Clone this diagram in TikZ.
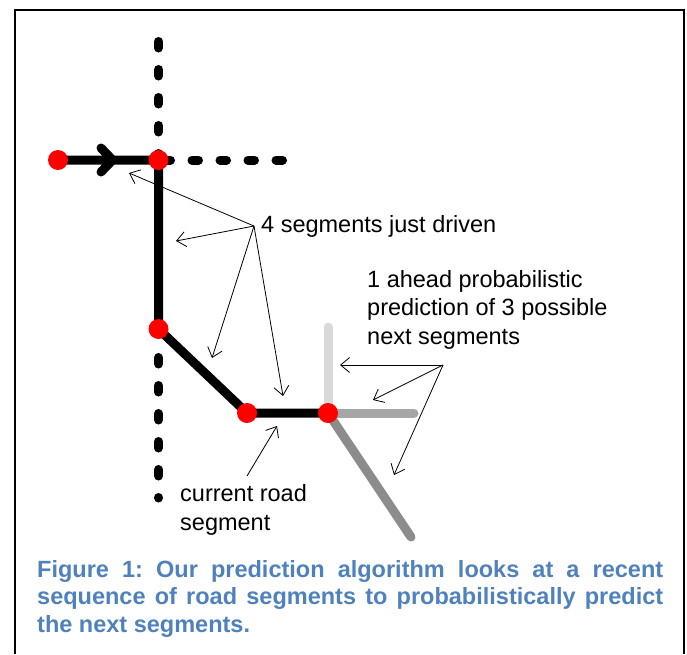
\documentclass[tikz,border=0pt]{standalone}
\usepackage{fontspec}
\setmainfont{Liberation Sans}
\usetikzlibrary{arrows.meta, backgrounds}
\definecolor{capBlue}{HTML}{4F81BD}
\definecolor{stopRed}{HTML}{FF0000}
\definecolor{nextLight}{HTML}{D9D9D9}
\definecolor{nextMid}{HTML}{A6A6A6}
\definecolor{nextDark}{HTML}{8C8C8C}
\frenchspacing

\begin{document}
\begin{tikzpicture}[x=1pt, y=-1pt,
    road/.style={line width=9pt, line cap=round, line join=round},
    sideroad/.style={road, dash pattern=on 6.5pt off 21.5pt},
    stop/.style={circle, fill=stopRed, minimum size=20pt, inner sep=0pt},
    pointer/.style={line width=0.8pt, -{Straight Barb[length=9pt, width=15pt]}},
    roadlabel/.style={font=\fontsize{23.5}{28.5}\selectfont, align=left, inner sep=0pt, anchor=base west}]
  \useasboundingbox (0,0) rectangle (687,654);
  \draw[line width=1.5pt] (15,654) |- (684,10) -- (684,654);

  % stops along the driven route
  \node[stop] (start) at (58,160) {};
  \node[stop] (cross) at (158.5,160) {};
  \node[stop] (turn) at (158.5,329) {};
  \node[stop] (bend) at (247,413) {};
  \node[stop] (now) at (328,413) {};

  % possible next segments
  \coordinate (goUp) at (328,327);
  \coordinate (goAhead) at (414,413);
  \coordinate (goDown) at (411,537);

  \begin{scope}[on background layer]
    \draw[sideroad] (158.5,41.5) -- (cross.center);
    \draw[sideroad] (164,160) -- (284,160);
    \draw[sideroad] (158.5,357.5) -- (158.5,498);
    \draw[road] (start.center) -- (cross.center) -- (turn.center) -- (bend.center) -- (now.center);
    \draw[road] (101,148) -- (112.5,160) -- (101,172);
    \draw[road, nextLight] (now.center) -- (goUp);
    \draw[road, nextMid] (now.center) -- (goAhead);
    \draw[road, nextDark] (now.center) -- (goDown);
  \end{scope}

  % labels (base = last line)
  \node[roadlabel] (driven) at (261,232) {4 segments just driven};
  \node[roadlabel] (current) at (180,530) {current road\\segment};
  \node[roadlabel] (ahead) at (367,344) {1 ahead probabilistic\\prediction of 3 possible\\next segments};

  % pointers
  \coordinate (drivenHub) at (254,226);
  \coordinate (d1) at (129,173);
  \coordinate (d2) at (176,241);
  \coordinate (d3) at (212,358);
  \coordinate (d4) at (283,396);
  \foreach \t in {d1,d2,d3,d4}
    \draw[pointer] (drivenHub) -- (\t);
  \coordinate (currentTail) at (247,476);
  \coordinate (currentTip) at (277,426);
  \draw[pointer] (currentTail) -- (currentTip);
  \coordinate (aheadHub) at (443,365);
  \coordinate (n1) at (340,365);
  \coordinate (n2) at (373,400);
  \coordinate (n3) at (394,475);
  \foreach \t in {n1,n2,n3}
    \draw[pointer] (aheadHub) -- (\t);

  \node[inner sep=0pt, anchor=base west, text width=626pt, align=justify, text=capBlue,
    font=\bfseries\fontsize{23.5}{27.5}\selectfont] (caption) at (37,577)
    {Figure 1: Our prediction algorithm looks at a recent\linebreak sequence of road segments to probabilistically predict\linebreak the next segments.};
\end{tikzpicture}
\end{document}
